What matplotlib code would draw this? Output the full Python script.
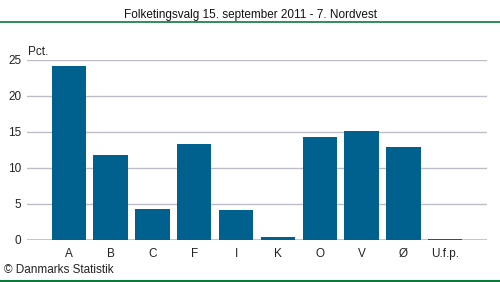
import matplotlib
matplotlib.use("Agg")
import matplotlib.pyplot as plt
from matplotlib.lines import Line2D

categories = ["A", "B", "C", "F", "I", "K", "O", "V", "Ø", "U.f.p."]
values = [24.2, 11.8, 4.3, 13.3, 4.2, 0.4, 14.3, 15.1, 12.9, 0.2]
yticks = [0, 5, 10, 15, 20, 25]

plt.rcParams['font.family'] = ['Liberation Sans', 'DejaVu Sans']
W, H = 500, 282
fig = plt.figure(figsize=(W/100, H/100), dpi=100)
ax = fig.add_axes([27/W, 1-240/H, 460/W, 180/H])

x = list(range(len(categories)))
ax.bar(x, values, width=0.82, color="#00618F", zorder=3)
ax.set_xlim(-1, len(categories))
ax.set_ylim(0, 25)
ax.set_yticks(yticks)
ax.set_xticks(x)
ax.set_xticklabels(categories)
ax.grid(axis="y", color="#BDBDC6", linewidth=1, zorder=0)
for s in ax.spines.values():
    s.set_visible(False)
ax.tick_params(length=0, labelsize=8.5, colors="#222222")
ax.tick_params(axis="y", pad=4)
ax.tick_params(axis="x", pad=6)
ax.axhline(0, color="#BDBDC6", linewidth=1.2, zorder=2)

fig.text(28/W, 1-52/H, "Pct.", fontsize=8.5, va="center", ha="left", color="#222222")
fig.text(0.5, 1-15/H, "Folketingsvalg 15. september 2011 - 7. Nordvest",
         fontsize=8.5, ha="center", va="center", color="#111111")
fig.text(4/W, 1-270/H, "© Danmarks Statistik", fontsize=8.5, ha="left", va="center", color="#222222")
fig.add_artist(Line2D([0, 1], [1-22/H, 1-22/H], color="#0A7A3C", linewidth=1.2, transform=fig.transFigure))
fig.add_artist(Line2D([0, 1], [1-281/H, 1-281/H], color="#0A7A3C", linewidth=1.5, transform=fig.transFigure))

fig.savefig("out.png", dpi=100)
